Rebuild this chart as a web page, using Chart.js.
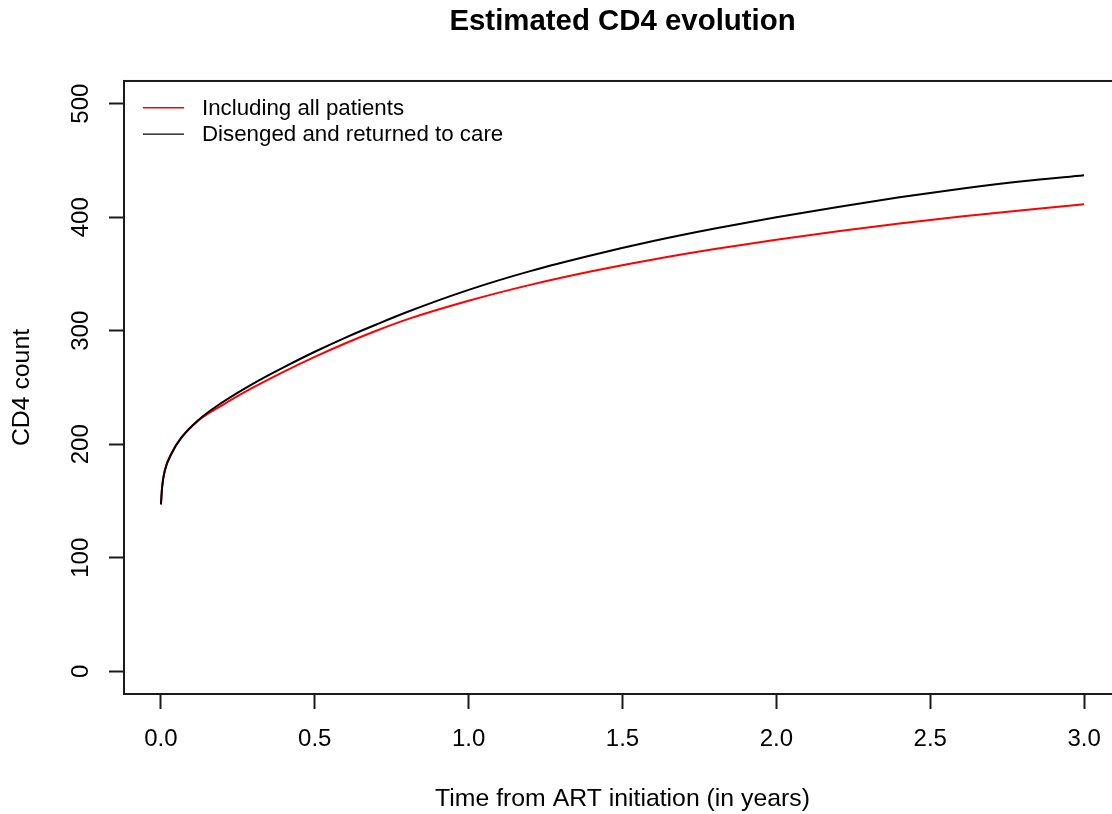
<!DOCTYPE html>
<html>
<head>
<meta charset="utf-8">
<title>Estimated CD4 evolution</title>
<script src="https://cdn.jsdelivr.net/npm/chart.js@4.4.1/dist/chart.umd.min.js"></script>
<style>
  html, body { margin: 0; padding: 0; background: #fff; overflow: hidden; }
  canvas { display: block; }
</style>
</head>
<body>
<canvas id="cd4Chart" width="1245" height="814"></canvas>
<script>
// Years since ART initiation at which the fitted curves are evaluated
const years = [0, 0.004, 0.013, 0.035, 0.067, 0.12, 0.2, 0.3, 0.4, 0.5, 0.6, 0.7, 0.8, 1.0, 1.2, 1.4, 1.6, 1.8, 2.0, 2.2, 2.4, 2.6, 2.8, 3.0];
// Estimated mean CD4 count, all patients
const cd4AllPatients = [147, 163, 177.5, 192.5, 206, 220.5, 234.5, 250, 264, 277, 289, 300, 310, 326.4, 340.4, 352.4, 362.8, 372, 380.2, 387.6, 394.4, 400.6, 406.2, 411.4];
// Estimated mean CD4 count, patients who disengaged and returned to care
const cd4Returned = [147, 162.5, 177, 192, 206, 221, 237, 253.5, 268, 281.5, 294, 305.5, 316.5, 336, 352.5, 366.5, 379, 390, 400, 409, 417.5, 425, 431.6, 437];
// Axis tick positions
const xTickValues = [0, 0.5, 1, 1.5, 2, 2.5, 3];
const yTickValues = [0, 100, 200, 300, 400, 500];
const seriesLabels = ['Including all patients', 'Disenged and returned to care'];

const FONT = "'Liberation Sans', Arial, Helvetica, sans-serif";
const INK = '#1a1a1a';
Chart.defaults.font.family = FONT;
Chart.defaults.color = '#000';

const toPoints = (xs, ys) => xs.map((x, i) => ({ x: x, y: ys[i] }));

// Frame around the plotting region
const plotBox = {
  id: 'plotBox',
  afterDraw(chart) {
    const { ctx, chartArea: a } = chart;
    ctx.save();
    ctx.strokeStyle = INK;
    ctx.lineWidth = 2;
    ctx.strokeRect(a.left, a.top, a.right - a.left, a.bottom - a.top);
    ctx.restore();
  }
};

// Borderless legend in the upper-left corner of the plot
const insetLegend = {
  id: 'insetLegend',
  afterDatasetsDraw(chart) {
    const { ctx, chartArea: a } = chart;
    ctx.save();
    ctx.font = '22.3px ' + FONT;
    ctx.textBaseline = 'middle';
    ctx.textAlign = 'left';
    chart.data.datasets.forEach((ds, i) => {
      const y = a.top + 26.7 + i * 26.4;
      ctx.strokeStyle = ds.borderColor;
      ctx.lineWidth = 1.4;
      ctx.beginPath();
      ctx.moveTo(a.left + 19, y);
      ctx.lineTo(a.left + 60, y);
      ctx.stroke();
      ctx.fillStyle = '#000';
      ctx.fillText(ds.label, a.left + 78, y + 1);
    });
    ctx.restore();
  }
};

const tickGrid = {
  display: true,
  drawOnChartArea: false,
  drawTicks: true,
  tickLength: 15,
  tickWidth: 2,
  tickColor: INK
};

new Chart(document.getElementById('cd4Chart'), {
  type: 'line',
  data: {
    datasets: [
      {
        label: seriesLabels[0],
        data: toPoints(years, cd4AllPatients),
        borderColor: '#ff0000',
        borderWidth: 2,
        pointRadius: 0,
        cubicInterpolationMode: 'monotone',
        fill: false,
        order: 1,
        yAxisID: 'y'
      },
      {
        label: seriesLabels[1],
        data: toPoints(years, cd4Returned),
        borderColor: '#000000',
        borderWidth: 2,
        pointRadius: 0,
        cubicInterpolationMode: 'monotone',
        fill: false,
        order: 0,
        yAxisID: 'y'
      }
    ]
  },
  options: {
    responsive: false,
    animation: false,
    events: [],
    layout: { padding: 0 },
    plugins: {
      legend: { display: false },
      tooltip: { enabled: false },
      title: {
        display: true,
        text: 'Estimated CD4 evolution',
        color: '#000',
        font: { size: 29.4, weight: 'bold', family: FONT },
        padding: { top: 4.4, bottom: 41.3 }
      }
    },
    scales: {
      x: {
        type: 'linear',
        position: 'bottom',
        min: -0.12,
        max: 3.12,
        afterBuildTicks: s => { s.ticks = xTickValues.map(v => ({ value: v })); },
        afterFit: s => { s.height = 120; },
        border: { display: false },
        grid: tickGrid,
        ticks: {
          padding: 16,
          maxRotation: 0,
          minRotation: 0,
          color: '#000',
          font: { size: 24 },
          callback: v => Number(v).toFixed(1)
        },
        title: {
          display: true,
          text: 'Time from ART initiation (in years)',
          color: '#000',
          font: { size: 24.8 },
          padding: { top: 0, bottom: 0.2 }
        }
      },
      y: {
        type: 'linear',
        position: 'left',
        min: -20,
        max: 520,
        afterBuildTicks: s => { s.ticks = yTickValues.map(v => ({ value: v })); },
        afterFit: s => { s.width = 124; },
        border: { display: false },
        grid: tickGrid,
        ticks: {
          padding: 8,
          minRotation: 90,
          maxRotation: 90,
          crossAlign: 'center',
          color: '#000',
          font: { size: 24 },
          callback: v => String(v)
        },
        title: {
          display: true,
          text: 'CD4 count',
          color: '#000',
          font: { size: 24.8 },
          padding: { top: 7.2, bottom: 0 }
        }
      },
      // right-hand margin of the figure, keeps the title centred over the plot
      yMargin: {
        type: 'linear',
        position: 'right',
        display: true,
        afterFit: s => { s.width = 124; },
        border: { display: false },
        grid: { display: false },
        ticks: { display: false }
      }
    }
  },
  plugins: [plotBox, insetLegend]
});
</script>
</body>
</html>
